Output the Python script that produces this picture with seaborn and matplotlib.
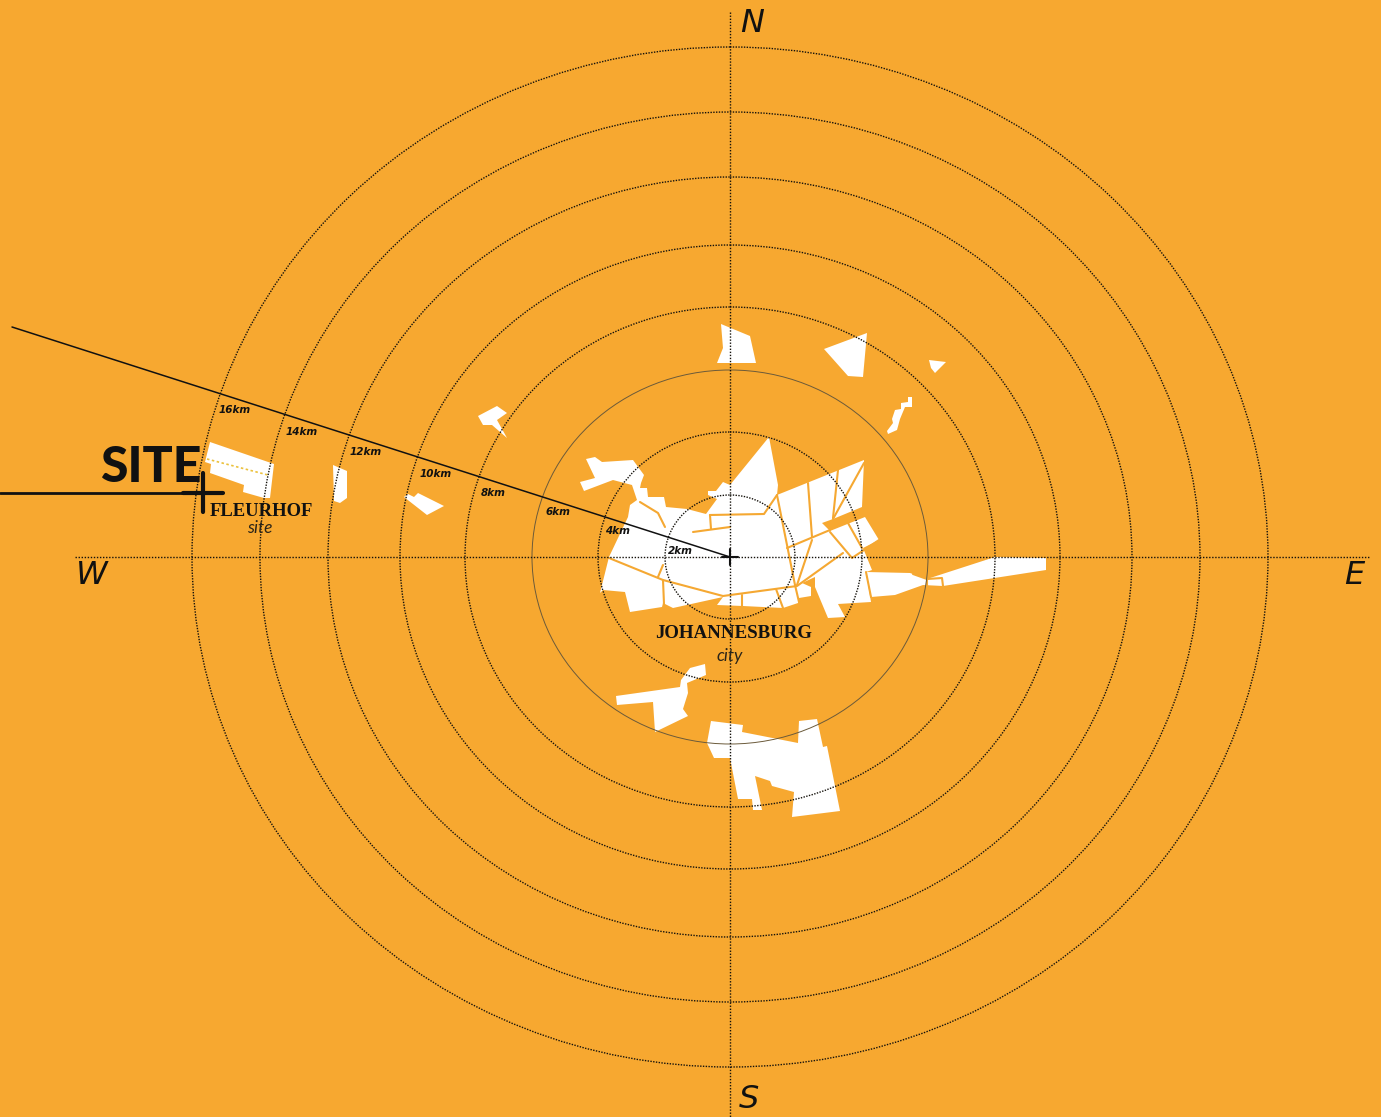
from matplotlib import pyplot as plt
from matplotlib.patches import Ellipse
import pandas as pd
import seaborn as sns

# ring radii (map units = picture pixels)
ring_km = [2, 4, 6, 8, 10, 12, 14, 16]
ring_rx = [65, 132, 198, 265, 330, 402, 470, 538]
ring_ry = [62, 125, 187, 250, 312, 380, 445, 510]
centre = (730, 557)

# suburbs
city_main = [(630, 505), (637, 500), (632, 485), (613, 480), (584, 491), (580, 482), (595, 478),
             (586, 459), (595, 457), (602, 462), (633, 460), (644, 475), (641, 483), (640, 488),
             (647, 488), (648, 497), (664, 497), (666, 507), (687, 509), (706, 514), (717, 499),
             (708, 495), (708, 491), (716, 491), (723, 482), (730, 485), (769, 437), (778, 485),
             (777, 495), (864, 460), (862, 507), (833, 519), (822, 523), (830, 531), (865, 517),
             (879, 540), (863, 548), (872, 570), (866, 572), (871, 602), (838, 604), (845, 617),
             (828, 618), (815, 587), (815, 577), (802, 583), (811, 587), (811, 596), (799, 598),
             (798, 603), (783, 608), (743, 606), (717, 605), (723, 597), (673, 608), (663, 603),
             (662, 607), (630, 612), (625, 592), (603, 590), (600, 593), (609, 557), (628, 517)]
city_tail = [(866, 572), (910, 573), (927, 579), (995, 557), (1046, 558), (1046, 570), (943, 586),
             (923, 585), (895, 595), (871, 597)]
south_west = [(616, 696), (680, 687), (681, 680), (690, 668), (705, 664), (706, 675), (687, 683),
              (688, 693), (683, 709), (688, 716), (655, 732), (653, 702), (617, 705)]
south_big = [(711, 721), (743, 725), (742, 732), (798, 743), (799, 721), (817, 719), (823, 747),
             (827, 746), (840, 811), (792, 817), (794, 792), (772, 786), (770, 781), (755, 776),
             (762, 810), (753, 810), (752, 799), (738, 799), (730, 758), (714, 758), (707, 743)]
north_1 = [(721, 324), (750, 336), (756, 363), (717, 363), (723, 348)]
north_2 = [(824, 349), (867, 333), (863, 377), (848, 376)]
north_3 = [(929, 360), (946, 362), (935, 373), (931, 368)]
north_4 = [(908, 397), (912, 397), (912, 407), (905, 407), (900, 419), (897, 430), (888, 434),
           (887, 431), (893, 423), (892, 419), (895, 410), (901, 409), (901, 403), (908, 402)]
fleurhof = [(210, 442), (274, 464), (270, 498), (264, 498), (243, 492), (244, 485), (210, 473),
            (211, 464), (205, 462)]
west_1 = [(333, 465), (347, 471), (347, 498), (340, 503), (334, 501)]
west_2 = [(404, 497), (408, 494), (414, 497), (418, 493), (444, 506), (427, 515)]
west_3 = [(478, 416), (497, 406), (507, 413), (497, 420), (507, 438), (492, 425), (483, 425)]
suburbs = [city_main, city_tail, south_west, south_big, north_1, north_2, north_3, north_4,
           fleurhof, west_1, west_2, west_3]

# roads inside the built up area
roads = [[(609, 558), (663, 580), (723, 596), (797, 586), (843, 553)],
         [(663, 580), (664, 604)],
         [(658, 577), (663, 565)],
         [(742, 595), (742, 607)],
         [(776, 589), (783, 608)],
         [(795, 585), (799, 602)],
         [(710, 515), (764, 514), (777, 495)],
         [(710, 515), (711, 529)],
         [(693, 532), (730, 527)],
         [(777, 495), (795, 585)],
         [(808, 483), (812, 537)],
         [(787, 548), (830, 530)],
         [(812, 540), (797, 585)],
         [(838, 470), (833, 518)],
         [(864, 463), (833, 519)],
         [(830, 532), (852, 558), (879, 540)],
         [(848, 523), (862, 548)],
         [(640, 502), (658, 513), (665, 527)],
         [(913, 574), (927, 579), (942, 578), (943, 586)],
         [(927, 579), (927, 586)],
         [(866, 572), (871, 597)]]

# km labels along the spoke
km_labels = ['2km', '4km', '6km', '8km', '10km', '12km', '14km', '16km']
km_x = [680, 617, 558, 493, 436, 366, 302, 235]
km_y = [551, 531, 512, 493, 474, 452, 432, 410]

spoke_x = [12, 730]
spoke_y = [327, 557]
orange = '#F7A830'

sns.set_theme(style='white')
fig = plt.figure(figsize=(13.81, 11.17), dpi=100, facecolor=orange)
ax = fig.add_axes([0, 0, 1, 1])
ax.set_facecolor(orange)
ax.set_xlim(0, 1381)
ax.set_ylim(1117, 0)
ax.axis('off')


def draw_line(xs, ys, **kw):
    df = pd.DataFrame({'x': xs, 'y': ys})
    sns.lineplot(data=df, x='x', y='y', ax=ax, sort=False, estimator=None, legend=False, **kw)


# built up areas
for poly in suburbs:
    ax.fill([p[0] for p in poly], [p[1] for p in poly], color='white', lw=0, zorder=1)
for road in roads:
    draw_line([p[0] for p in road], [p[1] for p in road], color='#F5A832', linewidth=1.5, zorder=2)
draw_line([207, 268], [459, 475], color='#EBC13C', linewidth=1.2, linestyle=(0, (1.5, 1.5)), zorder=2)

# distance rings, the 6km one is a thin solid line
for km, rx, ry in zip(ring_km, ring_rx, ring_ry):
    if km == 6:
        ls, col, lw = '-', '#6b5a3a', 0.7
    else:
        ls, col, lw = (0, (1, 1)), '#15120c', 1.0
    ax.add_patch(Ellipse(centre, 2 * rx, 2 * ry, fill=False, ec=col, lw=lw, ls=ls, zorder=3))

# compass axes
dots = (0, (1, 1.2))
draw_line([75, 1370], [557, 557], color='#15120c', linewidth=1.0, linestyle=dots, zorder=3)
draw_line([730, 730], [12, 1117], color='#15120c', linewidth=1.0, linestyle=dots, zorder=3)

# spoke and markers
draw_line(spoke_x, spoke_y, color='#111111', linewidth=1.1, zorder=4)
draw_line([722, 738], [557, 557], color='#111111', linewidth=1.5, zorder=4)
draw_line([730, 730], [549, 565], color='#111111', linewidth=1.5, zorder=4)
draw_line([0, 205], [493, 493], color='#111111', linewidth=2, zorder=4)
draw_line([183, 223], [493, 493], color='#111111', linewidth=3, zorder=4)
draw_line([203, 203], [473, 512], color='#111111', linewidth=3, zorder=4)

for lab, x, y in zip(km_labels, km_x, km_y):
    ax.text(x, y, lab, fontsize=7.5, fontweight='bold', fontstyle='italic', color='#111111',
            family='DejaVu Sans', ha='center', va='center', zorder=5)

for lab, x, y in [('N', 752, 24), ('W', 92, 576), ('E', 1354, 576), ('S', 749, 1100)]:
    ax.text(x, y, lab, fontsize=23, fontstyle='italic', color='#111111', family='DejaVu Sans',
            ha='center', va='center', zorder=5)

ax.text(151, 468, 'SITE', fontsize=36, fontweight='black', color='#111111', family='Lato',
        ha='center', va='center', zorder=5)
ax.text(261, 511, 'FLEURHOF', fontsize=13.4, fontweight='bold', color='#111111', family='Liberation Serif',
        ha='center', va='center', zorder=5)
ax.text(260, 528, 'site', fontsize=12.5, fontstyle='italic', color='#2a2418', family='Lato',
        ha='center', va='center', zorder=5)
ax.text(734, 634, 'JOHANNESBURG', fontsize=13.6, fontweight='bold', color='#111111', family='Liberation Serif',
        ha='center', va='center', zorder=5)
ax.text(730, 656, 'city', fontsize=12.5, fontstyle='italic', color='#2a2418', family='Lato',
        ha='center', va='center', zorder=5)

fig.savefig('out.png', dpi=100, facecolor=orange)
